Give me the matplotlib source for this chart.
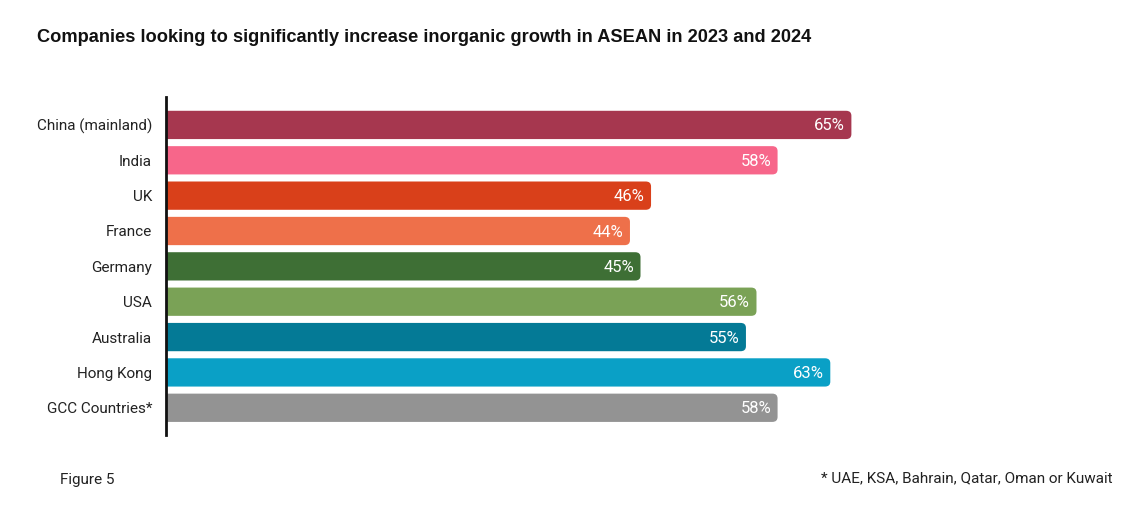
import matplotlib
matplotlib.use("Agg")
import matplotlib.pyplot as plt
from matplotlib.patches import FancyBboxPatch

# data
countries = ["China (mainland)", "India", "UK", "France", "Germany",
             "USA", "Australia", "Hong Kong", "GCC Countries*"]
shares = [65, 58, 46, 44, 45, 56, 55, 63, 58]
colors = ["#A6374F", "#F7668A", "#D9401A", "#EE704A", "#3E6F35",
          "#7AA256", "#047A96", "#0AA0C6", "#939393"]

title = "Companies looking to significantly increase inorganic growth in ASEAN in 2023 and 2024"
fig_label = "Figure 5"
footnote = "* UAE, KSA, Bahrain, Qatar, Oman or Kuwait"

plt.rcParams['font.family'] = ['Roboto', 'DejaVu Sans']

fig = plt.figure(figsize=(11.27, 5.12), dpi=100)
ax = fig.add_axes([166/1127, 1 - 435/512, 949/1127, 338/512])

bar_h = 0.8
for i, (v, c) in enumerate(zip(shares, colors)):
    # start left of zero so the rounded left corners get clipped away
    p = FancyBboxPatch((-2, i - bar_h/2), v + 2, bar_h,
                       boxstyle="round,pad=0,rounding_size=0.5",
                       mutation_aspect=0.28, fc=c, ec="none", clip_on=True)
    ax.add_patch(p)
    ax.text(v - 0.6, i + 0.03, f"{v}%", ha="right", va="center",
            color="white", fontsize=12)

ax.set_xlim(0, 90)
ax.set_ylim(8.77, -0.79)
ax.set_yticks(range(len(countries)))
ax.set_yticklabels(countries, fontsize=11, color="#222222")
ax.tick_params(axis="y", length=0, pad=10)
ax.set_xticks([])
for s in ["top", "right", "bottom"]:
    ax.spines[s].set_visible(False)
ax.spines["left"].set_linewidth(2)
ax.spines["left"].set_color("#111111")

fig.text(37/1127, 1 - 38/512, title, fontsize=13.15, fontweight="bold",
         family=["Liberation Sans", "DejaVu Sans"], va="center", ha="left",
         color="#111111")
fig.text(60/1127, 1 - 480/512, fig_label, fontsize=11, va="center",
         ha="left", color="#222222")
fig.text(1113/1127, 1 - 478/512, footnote, fontsize=11, va="center",
         ha="right", color="#222222")

fig.savefig("out.png", dpi=100, facecolor="white")
